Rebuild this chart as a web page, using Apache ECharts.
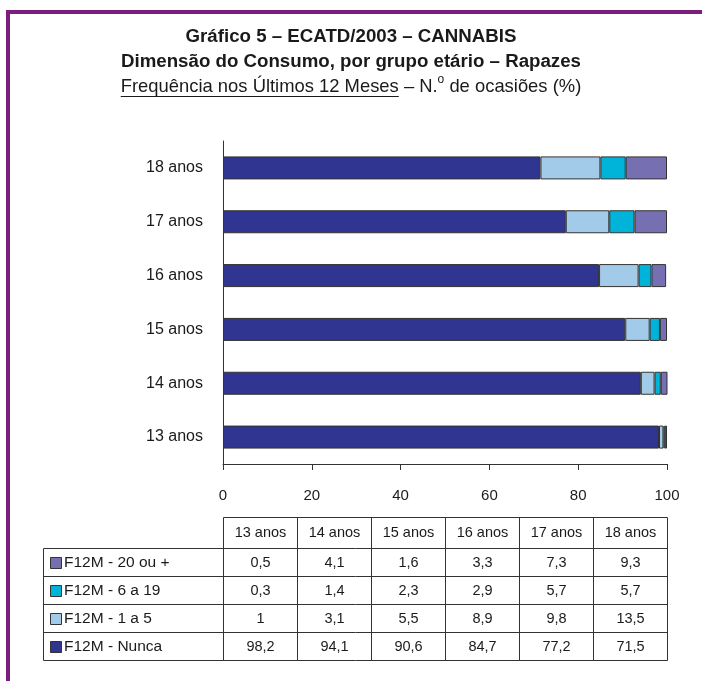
<!DOCTYPE html>
<html>
<head>
<meta charset="utf-8">
<title>Gráfico 5 – ECATD/2003 – CANNABIS</title>
<script src="https://cdn.jsdelivr.net/npm/echarts@6/dist/echarts.min.js"></script>
<style>
  html, body { margin: 0; padding: 0; background: #fff; }
  #chart { width: 702px; height: 681px; }
</style>
</head>
<body>
<div id="chart"></div>
<script>
const categories = ['13 anos', '14 anos', '15 anos', '16 anos', '17 anos', '18 anos']
const nunca = [98.2, 94.1, 90.6, 84.7, 77.2, 71.5]
const umACinco = [1, 3.1, 5.5, 8.9, 9.8, 13.5]
const seisA19 = [0.3, 1.4, 2.3, 2.9, 5.7, 5.7]
const vinteOuMais = [0.5, 4.1, 1.6, 3.3, 7.3, 9.3]
const seriesNames = ['F12M - Nunca', 'F12M - 1 a 5', 'F12M - 6 a 19', 'F12M - 20 ou +']
const seriesColors = ['#2f3590', '#a2cbea', '#00b4d9', '#7670b2']

const FONT = '"Liberation Sans", Arial, Helvetica, sans-serif'
const TEXT_COLOR = '#1a1a1a'
const LINE_COLOR = '#333'
const FRAME_COLOR = '#7b1e7e'

const chart = echarts.init(document.getElementById('chart'))

const fmt = (v) => String(v).replace('.', ',')

// medir largura de texto (para centrar o subtítulo sublinhado)
const measureCtx = document.createElement('canvas').getContext('2d')
const textWidth = (txt, font) => {
  measureCtx.font = font
  return measureCtx.measureText(txt).width
}

const barSeries = [nunca, umACinco, seisA19, vinteOuMais].map((data, i) => ({
  name: seriesNames[i],
  type: 'bar',
  stack: 'total',
  data,
  barWidth: 23,
  itemStyle: { color: seriesColors[i], borderColor: LINE_COLOR, borderWidth: 1 },
  emphasis: { disabled: true },
}))

chart.setOption({
  animation: false,
  textStyle: { fontFamily: FONT },
  grid: { left: 223, right: 35, top: 141, bottom: 217 },
  xAxis: {
    type: 'value',
    min: 0,
    max: 100,
    interval: 20,
    axisLine: { show: true, lineStyle: { color: LINE_COLOR, width: 1 } },
    axisTick: { show: true, length: 6, lineStyle: { color: LINE_COLOR } },
    splitLine: { show: false },
    axisLabel: { color: TEXT_COLOR, fontSize: 15, margin: 24 },
  },
  yAxis: {
    type: 'category',
    data: categories,
    axisLine: { show: true, lineStyle: { color: LINE_COLOR, width: 1 } },
    axisTick: { show: false },
    axisLabel: { color: TEXT_COLOR, fontSize: 16, margin: 20 },
  },
  series: barSeries,
})

// título, moldura e tabela de dados
const buildGraphics = () => {
  const g = []
  const cx = 351

  // moldura roxa (topo e lado esquerdo)
  g.push({ type: 'rect', shape: { x: 6, y: 10, width: 702, height: 4 }, style: { fill: FRAME_COLOR }, silent: true })
  g.push({ type: 'rect', shape: { x: 6, y: 10, width: 4, height: 681 }, style: { fill: FRAME_COLOR }, silent: true })

  const boldFont = 'bold 18.7px ' + FONT
  const normFont = '18.4px ' + FONT
  g.push({
    type: 'text', x: cx, y: 37,
    style: { text: 'Gráfico 5 – ECATD/2003 – CANNABIS', font: boldFont, fill: TEXT_COLOR, align: 'center', verticalAlign: 'middle' },
  })
  g.push({
    type: 'text', x: cx, y: 62,
    style: { text: 'Dimensão do Consumo, por grupo etário – Rapazes', font: boldFont, fill: TEXT_COLOR, align: 'center', verticalAlign: 'middle' },
  })

  // terceira linha: parte sublinhada + "N.º" com o em expoente
  const p1 = 'Frequência nos Últimos 12 Meses'
  const p2 = ' – N.'
  const p3 = 'o'
  const p4 = ' de ocasiões (%)'
  const supFont = '12px ' + FONT
  const w1 = textWidth(p1, normFont)
  const w2 = textWidth(p2, normFont)
  const w3 = textWidth(p3, supFont)
  const w4 = textWidth(p4, normFont)
  let x = cx - (w1 + w2 + w3 + w4) / 2
  const y3 = 87
  g.push({ type: 'text', x, y: y3, style: { text: p1, font: normFont, fill: TEXT_COLOR, align: 'left', verticalAlign: 'middle' } })
  g.push({ type: 'line', shape: { x1: x, y1: 96.5, x2: x + w1, y2: 96.5 }, style: { stroke: TEXT_COLOR, lineWidth: 1 } })
  x += w1
  g.push({ type: 'text', x, y: y3, style: { text: p2, font: normFont, fill: TEXT_COLOR, align: 'left', verticalAlign: 'middle' } })
  x += w2
  g.push({ type: 'text', x, y: y3 - 7, style: { text: p3, font: supFont, fill: TEXT_COLOR, align: 'left', verticalAlign: 'middle' } })
  x += w3
  g.push({ type: 'text', x, y: y3, style: { text: p4, font: normFont, fill: TEXT_COLOR, align: 'left', verticalAlign: 'middle' } })

  // tabela: colunas alinhadas com o eixo dos x
  const colX = []
  for (let k = 0; k <= categories.length; k++) {
    colX.push(Math.round(chart.convertToPixel({ xAxisIndex: 0 }, (100 * k) / categories.length)) + 0.5)
  }
  const tableLeft = 43.5
  const headTop = 517.5
  const rowTops = [548.5, 576.5, 604.5, 632.5, 660.5]
  const tableRight = colX[colX.length - 1]
  const line = (x1, y1, x2, y2) => ({
    type: 'line', silent: true,
    shape: { x1, y1, x2, y2 },
    style: { stroke: LINE_COLOR, lineWidth: 1 },
  })

  g.push(line(colX[0], headTop, tableRight, headTop))
  rowTops.forEach((y) => g.push(line(tableLeft, y, tableRight, y)))
  g.push(line(tableLeft, rowTops[0], tableLeft, rowTops[rowTops.length - 1]))
  colX.forEach((cxi) => g.push(line(cxi, headTop, cxi, rowTops[rowTops.length - 1])))

  const cellFont = '14.5px ' + FONT
  const legendFont = '15.5px ' + FONT
  categories.forEach((c, i) => {
    g.push({
      type: 'text', x: (colX[i] + colX[i + 1]) / 2, y: (headTop + rowTops[0]) / 2,
      style: { text: c, font: cellFont, fill: TEXT_COLOR, align: 'center', verticalAlign: 'middle' },
    })
  })

  // linhas da tabela de cima para baixo: 20 ou +, 6 a 19, 1 a 5, Nunca
  const rows = [3, 2, 1, 0]
  const rowData = [nunca, umACinco, seisA19, vinteOuMais]
  rows.forEach((si, r) => {
    const ym = (rowTops[r] + rowTops[r + 1]) / 2
    g.push({
      type: 'rect', silent: true,
      shape: { x: 50.5, y: Math.round(ym - 6) + 0.5, width: 11, height: 11 },
      style: { fill: seriesColors[si], stroke: LINE_COLOR, lineWidth: 1 },
    })
    g.push({
      type: 'text', x: 64, y: ym,
      style: { text: seriesNames[si], font: legendFont, fill: TEXT_COLOR, align: 'left', verticalAlign: 'middle' },
    })
    rowData[si].forEach((v, i) => {
      g.push({
        type: 'text', x: (colX[i] + colX[i + 1]) / 2, y: ym,
        style: { text: fmt(v), font: cellFont, fill: TEXT_COLOR, align: 'center', verticalAlign: 'middle' },
      })
    })
  })
  return g
}

chart.setOption({ graphic: buildGraphics() })
</script>
</body>
</html>
